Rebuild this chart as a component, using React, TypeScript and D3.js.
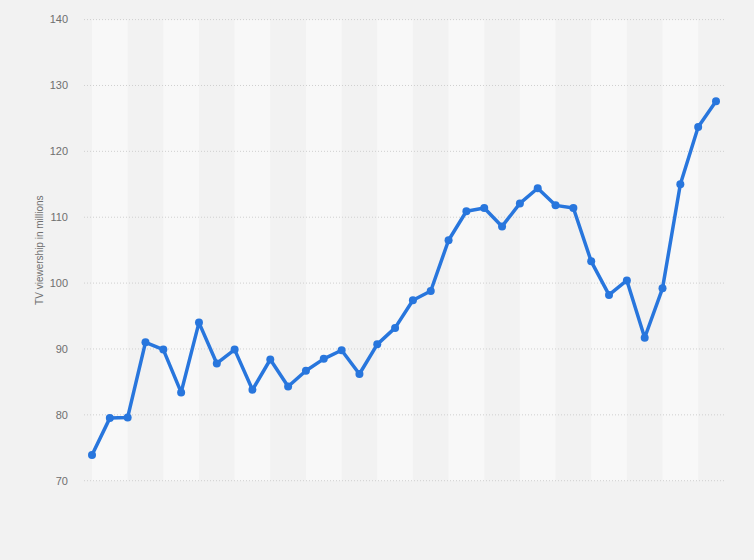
import React from "react";
import * as d3 from "d3";

const years = [
  "1990", "1991", "1992", "1993", "1994", "1995", "1996", "1997", "1998", "1999",
  "2000", "2001", "2002", "2003", "2004", "2005", "2006", "2007", "2008", "2009",
  "2010", "2011", "2012", "2013", "2014", "2015", "2016", "2017", "2018", "2019",
  "2020", "2021", "2022", "2023", "2024", "2025",
];

const viewers = [
  73.9, 79.5, 79.6, 91.0, 89.9, 83.4, 94.0, 87.8, 89.9, 83.8,
  88.4, 84.3, 86.7, 88.5, 89.8, 86.2, 90.7, 93.2, 97.4, 98.8,
  106.5, 110.9, 111.4, 108.6, 112.1, 114.4, 111.8, 111.4, 103.3, 98.2,
  100.4, 91.7, 99.2, 115.0, 123.7, 127.6,
];

const yTicks = [70, 80, 90, 100, 110, 120, 130, 140];
const yLabel = "TV viewership in millions";

const W = 754;
const H = 560;
const left = 84;
const right = 724;
const font = "'Liberation Sans', Arial, sans-serif";

const App: React.FC = () => {
  const x = d3.scalePoint<string>().domain(years).range([92, 716]);
  const y = d3.scaleLinear().domain([70, 140]).range([480.7, 19.6]);

  const line = d3
    .line<number>()
    .x((d, i) => x(years[i])!)
    .y((d) => y(d));

  // light bands every other pair of years
  const bands = years.filter((d, i) => i % 4 === 0 && i + 2 < years.length);

  return (
    <div style={{ position: "fixed", left: 0, top: 0 }}>
      <svg width={W} height={H} style={{ display: "block" }}>
        <rect x={0} y={0} width={W} height={H} fill="#f2f2f2" />
        {bands.map((d) => {
          const i = years.indexOf(d);
          const x0 = x(d)!;
          const x1 = x(years[i + 2])!;
          return (
            <rect
              key={d}
              x={x0}
              y={y(140)}
              width={x1 - x0}
              height={y(70) - y(140)}
              fill="#f8f8f8"
            />
          );
        })}
        {yTicks.map((t) => (
          <g key={t}>
            <line
              x1={left}
              x2={right}
              y1={y(t)}
              y2={y(t)}
              stroke="#cfcfcf"
              strokeWidth={1}
              strokeDasharray="1,2"
            />
            <text
              x={68}
              y={y(t)}
              dy="0.35em"
              textAnchor="end"
              fontFamily={font}
              fontSize={11}
              fill="#6f6f6f"
            >
              {t}
            </text>
          </g>
        ))}
        <text
          transform={`translate(43,${(y(70) + y(140)) / 2}) rotate(-90)`}
          textAnchor="middle"
          fontFamily={font}
          fontSize={10}
          fill="#6f6f6f"
        >
          {yLabel}
        </text>
        <path
          d={line(viewers) || ""}
          fill="none"
          stroke="#2876dd"
          strokeWidth={3.5}
          strokeLinejoin="round"
        />
        {viewers.map((v, i) => (
          <circle key={years[i]} cx={x(years[i])} cy={y(v)} r={4} fill="#2876dd" />
        ))}
      </svg>
    </div>
  );
};

export default App;
